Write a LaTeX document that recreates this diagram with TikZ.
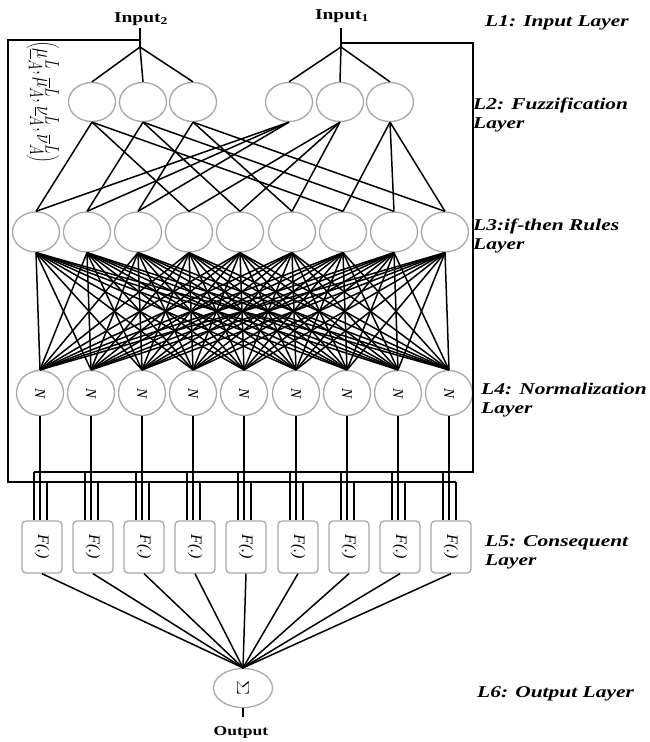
\documentclass[tikz,border=0pt]{standalone}
\usepackage{fontspec}
\usepackage{graphicx}
\setmainfont{Liberation Serif}
\newfontfamily\lblfont[FakeStretch=1.3]{Liberation Serif}
\usetikzlibrary{shapes.geometric,calc}
\definecolor{ringgray}{RGB}{168,168,168}
\tikzset{
  conn/.style={line width=1.5pt, black},
  feed/.style={line width=1.9pt, black},
  ring/.style={ellipse, draw=ringgray, line width=1.3pt, inner sep=0pt, minimum width=47pt},
  mfnode/.style={ring, minimum height=39pt},
  rulenode/.style={ring, minimum height=40pt},
  normnode/.style={ring, minimum height=45pt, font=\fontsize{15}{15}\selectfont},
  fbox/.style={draw=ringgray, line width=1.3pt, rounded corners=4pt, minimum width=40pt, minimum height=52pt, inner sep=0pt, font=\fontsize{16}{16}\selectfont},
  sumnode/.style={ring, minimum width=59pt, minimum height=39pt, font=\fontsize{18}{18}\selectfont},
  laylbl/.style={anchor=west, align=left, inner sep=0pt, font=\lblfont\bfseries\itshape\fontsize{16.5}{19}\selectfont},
  laylbl1/.style={anchor=base west, inner sep=0pt, font=\lblfont\bfseries\itshape\fontsize{16.5}{19}\selectfont},
  inlbl/.style={anchor=base, inner sep=0pt, font=\lblfont\bfseries\fontsize{15}{15}\selectfont},
}
\begin{document}
\begin{tikzpicture}[x=1pt,y=-1pt]
\useasboundingbox (0,0) rectangle (650,742);
\fill[white] (0,0) rectangle (650,742);

% inputs
\node[inlbl] (in2) at (141,22) {Input\textsubscript{2}};
\node[inlbl] (in1) at (342,19) {Input\textsubscript{1}};
\coordinate (s2) at (140,28);
\coordinate (b2) at (140,47);
\coordinate (s1) at (341,28);
\coordinate (b1) at (341,47);
\draw[feed] (s2) -- (b2);
\draw[feed] (s1) -- (b1);

% layer 2
\node[mfnode] (m1) at (92,102) {};
\node[mfnode] (m2) at (143,102) {};
\node[mfnode] (m3) at (193,102) {};
\node[mfnode] (m4) at (289,102) {};
\node[mfnode] (m5) at (340,102) {};
\node[mfnode] (m6) at (390,102) {};
\foreach \a in {1,2,3} \draw[conn] (b2) -- (m\a.north);
\foreach \a in {4,5,6} \draw[conn] (b1) -- (m\a.north);

% left parameter label
\node[rotate=-90, inner sep=0pt] (parlbl) at (43,102)
  {\scalebox{1}[1.35]{\fontsize{19}{19}\selectfont $\left(\underline{\mu}^{L}_{A},\overline{\mu}^{L}_{A},\underline{\nu}^{L}_{A},\overline{\nu}^{L}_{A}\right)$}};

% layers 3, 4, 5
\foreach \i in {0,...,8} {
  \pgfmathsetmacro{\px}{round(40+51.1*\i)}
  \node[rulenode] (r\i) at (\px-4,232) {};
  \node[normnode] (n\i) at (\px,393) {\rotatebox{-90}{\itshape N}};
  \node[fbox] (f\i) at (\px+2,547) {\rotatebox{-90}{\itshape F(.)}};
  \coordinate (ua\i) at (\px-6,472);
  \coordinate (ub\i) at (\px+7,482);
}

% L2 -> L3
\foreach \k in {0,...,8} {
  \pgfmathtruncatemacro{\ma}{1+mod(\k,3)}
  \pgfmathtruncatemacro{\mb}{4+div(\k,3)}
  \draw[conn] (m\ma.south) -- (r\k.north);
  \draw[conn] (m\mb.south) -- (r\k.north);
}

% L3 -> L4
\foreach \i in {0,...,8} \foreach \j in {0,...,8} \draw[conn] (r\i.south) -- (n\j.north);

% input feed lines
\coordinate (t2) at (140,40);
\coordinate (lb) at (8,482);
\coordinate (t1) at (341,43);
\coordinate (rb) at (473,472);
\draw[feed] (t2) -| (lb) -- (ub8);
\draw[feed] (t1) -| (rb) -- (ua0);
\foreach \i in {0,...,8} {
  \draw[feed] (ua\i) -- (ua\i |- f\i.north);
  \draw[feed] (ub\i) -- (ub\i |- f\i.north);
  \draw[feed] (n\i.south) -- (n\i.south |- f\i.north);
}

% output
\node[sumnode] (sig) at (243,688) {\rotatebox{-90}{\scalebox{1.3}[1]{$\Sigma$}}};
\foreach \i in {0,...,8} \draw[conn] (f\i.south) -- (sig.north);
\coordinate (os) at (243,717);
\draw[feed] (sig.south) -- (os);
\node[inlbl, font=\lblfont\bfseries\fontsize{13.5}{13.5}\selectfont] (outl) at (241,735) {Output};

% layer labels
\node[laylbl1] (lay1) at (485,26) {L1: Input Layer};
\node[laylbl] (lay2) at (473,115) {L2: Fuzzification\\Layer};
\node[laylbl] (lay3) at (473,236) {L3:if-then Rules\\Layer};
\node[laylbl] (lay4) at (481,400) {L4: Normalization\\Layer};
\node[laylbl] (lay5) at (485,552) {L5: Consequent\\Layer};
\node[laylbl1] (lay6) at (477,697) {L6: Output Layer};
\end{tikzpicture}
\end{document}
